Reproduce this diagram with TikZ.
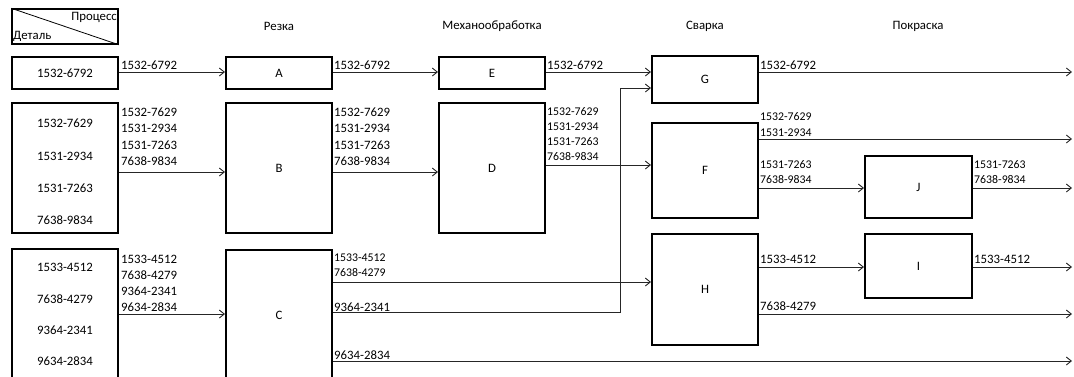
\documentclass[tikz,border=0pt]{standalone}
\usepackage{fontspec}
\setmainfont{Carlito}
\usetikzlibrary{arrows.meta}
\begin{document}
\begin{tikzpicture}[x=1pt,y=-1pt,
  bigf/.style={font=\fontsize{12.8}{14}\selectfont},
  smallf/.style={font=\fontsize{11.8}{13}\selectfont},
  procbox/.style={draw=black,line width=2pt,minimum width=106pt,inner sep=0pt,bigf},
  lbl/.style={anchor=west,inner sep=0pt,bigf},
  slbl/.style={anchor=west,inner sep=0pt,smallf},
  txt/.style={inner sep=0pt,bigf},
  conn/.style={draw=black!85,line width=0.9pt},
  arr/.style={conn,-{Straight Barb[length=5pt,width=8pt]}}
]
\useasboundingbox (0,0) rectangle (1074,376);
\clip (0,0) rectangle (1074,376);
% header
\node[draw=black,line width=1.5pt,minimum width=106pt,minimum height=35pt,inner sep=0pt] (hdr) at (65,26.5) {};
\draw[line width=0.8pt] (hdr.north west) -- (hdr.south east);
\node[txt,anchor=east] (hproc) at (117,17) {Процесс};
\node[txt,anchor=west] (hdet) at (13,36) {Деталь};
% column titles
\node[txt] (t1) at (279,26) {Резка};
\node[txt] (t2) at (492,26) {Механообработка};
\node[txt] (t3) at (705,26) {Сварка};
\node[txt] (t4) at (918,26) {Покраска};
% boxes
\node[procbox,minimum height=32pt] (P1) at (65,73) {1532-6792};
\node[procbox,minimum height=32pt] (A) at (279,73) {A};
\node[procbox,minimum height=32pt] (E) at (492,73) {E};
\node[procbox,minimum height=47pt] (G) at (705,79.5) {G};
\node[procbox,minimum height=130pt] (P2) at (65,168) {};
\node[txt] (p2a) at (65,123) {1532-7629};
\node[txt] (p2b) at (65,156) {1531-2934};
\node[txt] (p2c) at (65,188) {1531-7263};
\node[txt] (p2d) at (65,220) {7638-9834};
\node[procbox,minimum height=130pt] (B) at (279,168) {B};
\node[procbox,minimum height=130pt] (D) at (492,168) {D};
\node[procbox,minimum height=95pt] (F) at (705,170.5) {F};
\node[procbox,minimum width=107pt,minimum height=62pt] (J) at (918.5,187) {J};
\node[procbox,minimum height=141pt] (P3) at (65,319.5) {};
\node[txt] (p3a) at (65,267) {1533-4512};
\node[txt] (p3b) at (65,299) {7638-4279};
\node[txt] (p3c) at (65,330) {9364-2341};
\node[txt] (p3d) at (65,361) {9634-2834};
\node[procbox,minimum height=140pt] (C) at (279,320) {};
\node[txt] (Cl) at (279,315) {C};
\node[procbox,minimum height=111pt] (H) at (705,289.5) {H};
\node[procbox,minimum width=107pt,minimum height=64pt] (I) at (918.5,266) {I};
% levels
\coordinate (r1) at (0,72);
\coordinate (g2) at (0,88);
\coordinate (r2) at (0,172);
\coordinate (dl) at (0,165);
\coordinate (f1) at (0,139);
\coordinate (f2) at (0,188);
\coordinate (p3) at (0,314);
\coordinate (c1) at (0,282);
\coordinate (c2) at (0,312);
\coordinate (c3) at (0,361);
\coordinate (h1) at (0,267);
\coordinate (h2) at (0,314);
\coordinate (vx) at (620,0);
\coordinate (ox) at (1072,0);
% connectors
\draw[arr] (P1.east|-r1) -- (A.west|-r1);
\draw[arr] (A.east|-r1) -- (E.west|-r1);
\draw[arr] (E.east|-r1) -- (G.west|-r1);
\draw[arr] (G.east|-r1) -- (ox|-r1);
\draw[arr] (P2.east|-r2) -- (B.west|-r2);
\draw[arr] (B.east|-r2) -- (D.west|-r2);
\draw[arr] (D.east|-dl) -- (F.west|-dl);
\draw[arr] (F.east|-f1) -- (ox|-f1);
\draw[arr] (F.east|-f2) -- (J.west|-f2);
\draw[arr] (J.east|-f2) -- (ox|-f2);
\draw[arr] (P3.east|-p3) -- (C.west|-p3);
\draw[arr] (C.east|-c1) -- (H.west|-c1);
\draw[arr] (C.east|-c2) -| (vx|-g2) -- (G.west|-g2);
\draw[arr] (C.east|-c3) -- (ox|-c3);
\draw[arr] (H.east|-h1) -- (I.west|-h1);
\draw[arr] (H.east|-h2) -- (ox|-h2);
\draw[arr] (I.east|-h1) -- (ox|-h1);
% labels
\node[lbl] (l1) at (121,65) {1532-6792};
\node[lbl] (l2) at (334,65) {1532-6792};
\node[lbl] (l3) at (547,65) {1532-6792};
\node[lbl] (l4) at (760,65) {1532-6792};
\foreach \x/\n in {121/a,334/b}{
  \node[lbl] (m1\n) at (\x,112) {1532-7629};
  \node[lbl] (m2\n) at (\x,128.5) {1531-2934};
  \node[lbl] (m3\n) at (\x,145) {1531-7263};
  \node[lbl] (m4\n) at (\x,161) {7638-9834};
}
\node[slbl] (d1) at (547,112) {1532-7629};
\node[slbl] (d2) at (547,127) {1531-2934};
\node[slbl] (d3) at (547,142) {1531-7263};
\node[slbl] (d4) at (547,157) {7638-9834};
\node[slbl] (fa) at (760,117) {1532-7629};
\node[slbl] (fb) at (760,132.5) {1531-2934};
\node[slbl] (fc) at (760,164.5) {1531-7263};
\node[slbl] (fd) at (760,180) {7638-9834};
\node[slbl] (ja) at (974,164.5) {1531-7263};
\node[slbl] (jb) at (974,180) {7638-9834};
\node[lbl] (q1) at (121,259) {1533-4512};
\node[lbl] (q2) at (121,275) {7638-4279};
\node[lbl] (q3) at (121,291) {9364-2341};
\node[lbl] (q4) at (121,307) {9634-2834};
\node[slbl] (ca) at (334,258) {1533-4512};
\node[slbl] (cb) at (334,273) {7638-4279};
\node[lbl] (cc) at (334,307) {9364-2341};
\node[lbl] (cd) at (334,355) {9634-2834};
\node[lbl] (ha) at (760,259) {1533-4512};
\node[lbl] (hb) at (760,306.5) {7638-4279};
\node[lbl] (ia) at (974,259) {1533-4512};
\end{tikzpicture}
\end{document}
